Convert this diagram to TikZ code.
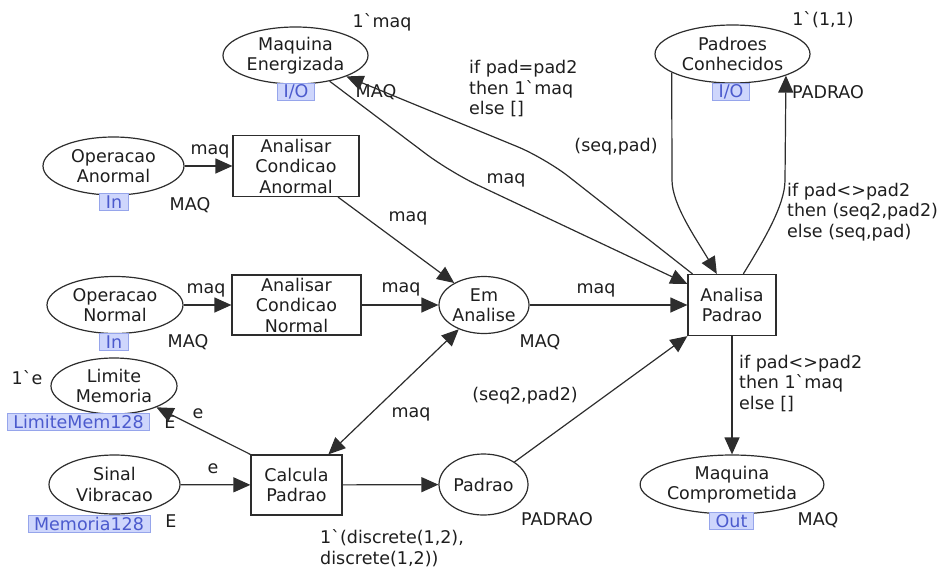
\documentclass[tikz,border=0pt]{standalone}
\usepackage{fontspec}
\newfontfamily\cpnfont{DejaVu Sans}
\usetikzlibrary{arrows.meta,shapes.geometric}
\definecolor{ln}{RGB}{45,45,45}
\definecolor{txt}{RGB}{30,30,30}
\definecolor{tagfill}{RGB}{206,214,252}
\definecolor{tagdraw}{RGB}{150,165,235}
\definecolor{tagtext}{RGB}{75,90,205}
\begin{document}
\begin{tikzpicture}[x=1pt,y=-1pt,
  font=\cpnfont\fontsize{17.5}{20.5}\selectfont,
  every node/.style={text=txt},
  place/.style={draw=ln, line width=1.2pt, ellipse, inner sep=0pt, align=center},
  trans/.style={draw=ln, line width=1.2pt, rectangle, inner sep=0pt, align=center},
  tag/.style={fill=tagfill, draw=tagdraw, line width=0.8pt, text=tagtext, inner xsep=6pt, inner ysep=0pt, minimum height=17pt},
  lab/.style={inner sep=0pt},
  arc/.style={draw=ln, line width=1.2pt, -{Triangle[length=17pt,width=15pt]}},
  darc/.style={draw=ln, line width=1.2pt, {Triangle[length=17pt,width=15pt]}-{Triangle[length=17pt,width=15pt]}},
]
\useasboundingbox (0,0) rectangle (944,568);

% places and transitions
\node[place, minimum width=145pt, minimum height=57pt] (ME) at (295.5,55.5) {Maquina\\Energizada};
\node[place, minimum width=141pt, minimum height=58pt] (OA) at (113.5,166) {Operacao\\Anormal};
\node[trans, minimum width=126pt, minimum height=61pt] (ACA) at (296,166) {Analisar\\Condicao\\Anormal};
\node[place, minimum width=136pt, minimum height=57pt] (ON) at (115,305) {Operacao\\Normal};
\node[trans, minimum width=129pt, minimum height=60pt] (ACN) at (296.5,305) {Analisar\\Condicao\\Normal};
\node[place, minimum width=90pt, minimum height=57pt] (EA) at (484,305) {Em\\Analise};
\node[trans, minimum width=88pt, minimum height=61pt] (AP) at (732,305) {Analisa\\Padrao};
\node[place, minimum width=155pt, minimum height=58pt] (PC) at (732.5,54) {Padroes\\Conhecidos};
\node[place, minimum width=126pt, minimum height=56pt] (LM) at (114,386) {Limite\\Memoria};
\node[place, minimum width=131pt, minimum height=59pt] (SV) at (114.5,484.5) {Sinal\\Vibracao};
\node[trans, minimum width=91pt, minimum height=60pt] (CP) at (296.5,485) {Calcula\\Padrao};
\node[place, minimum width=89pt, minimum height=61pt] (PA) at (483.5,484.5) {Padrao};
\node[place, minimum width=178pt, minimum height=59pt] (MC) at (732,484.5) {Maquina\\Comprometida};

% port tags
\node[tag] (tME) at (296,92) {I/O};
\node[tag] (tOA) at (114,202) {In};
\node[tag] (tON) at (114,342) {In};
\node[tag] (tPC) at (731,92) {I/O};
\node[tag] (tLM) at (78.5,422) {LimiteMem128};
\node[tag] (tSV) at (89,524) {Memoria128};
\node[tag] (tMC) at (731.5,521) {Out};

% colour sets
\node[lab] (cME) at (376,92) {MAQ};
\node[lab] (cOA) at (190,205) {MAQ};
\node[lab] (cON) at (188,342) {MAQ};
\node[lab] (cEA) at (540,342) {MAQ};
\node[lab] (cPC) at (828,92) {PADRAO};
\node[lab] (cLM) at (170,422) {E};
\node[lab] (cSV) at (171,521) {E};
\node[lab] (cPA) at (557,519) {PADRAO};
\node[lab] (cMC) at (818,520) {MAQ};

% initial markings
\node[lab] (iME) at (382,22) {1`maq};
\node[lab] (iPC) at (823,20) {1`(1,1)};
\node[lab] (iLM) at (27,378) {1`e};
\node[lab, align=left, anchor=west] (iPA) at (320,548) {1`(discrete(1,2),\\discrete(1,2))};

% arcs
\draw[arc] (OA) -- (ACA);
\draw[arc] (ON) -- (ACN);
\draw[arc] (ACA) -- (EA);
\draw[arc] (ACN) -- (EA);
\draw[arc] (EA) -- (AP);
\draw[arc] (SV) -- (CP);
\draw[arc] (CP) -- (PA);
\draw[arc] (CP.north west) -- (LM);
\draw[darc] (CP) -- (EA);
\draw[arc] (PA) -- (AP.south west);
\draw[arc] (AP) -- (MC);
\draw[arc, rounded corners=30pt] (ME) -- (450,172) -- (AP);
\draw[arc, rounded corners=30pt] (AP) -- (545,158) -- (ME);
\draw[arc] (PC.197) -- (672,180) .. controls (672,205) and (697,240) .. (AP.116);
\draw[arc] (AP.70) .. controls (764,240) and (785,205) .. (785,180) -- (PC.-22);

% arc inscriptions
\node[lab] (l1) at (210,151) {maq};
\node[lab] (l2) at (206,290) {maq};
\node[lab] (l3) at (408,218) {maq};
\node[lab] (l4) at (401,289) {maq};
\node[lab] (l5) at (596,290) {maq};
\node[lab] (l6) at (506,180) {maq};
\node[lab] (l7) at (411,414) {maq};
\node[lab] (l8) at (213,469) {e};
\node[lab] (l9) at (198,414) {e};
\node[lab] (l10) at (525,396) {(seq2,pad2)};
\node[lab] (l11) at (616,147) {(seq,pad)};
\node[lab, align=left, anchor=west] (l12) at (469,89) {if pad=pad2\\then 1`maq\\else []};
\node[lab, align=left, anchor=west] (l13) at (787,212) {if pad<>pad2\\then (seq2,pad2)\\else (seq,pad)};
\node[lab, align=left, anchor=west] (l14) at (739,383) {if pad<>pad2\\then 1`maq\\else []};
\end{tikzpicture}
\end{document}
